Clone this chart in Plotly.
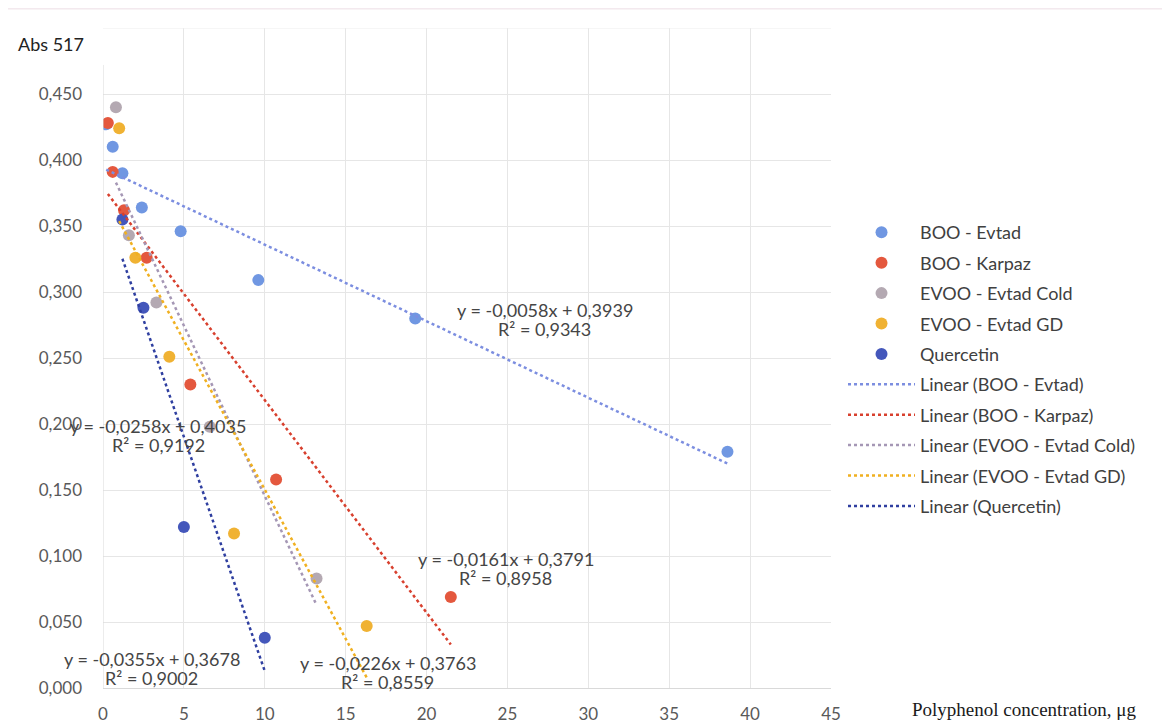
import plotly.graph_objects as go

# ---------------- data ----------------
series_names = ["BOO - Evtad", "BOO - Karpaz", "EVOO - Evtad Cold", "EVOO - Evtad GD", "Quercetin"]

evtad_x = [0.2, 0.6, 1.2, 2.4, 4.8, 9.6, 19.3, 38.6]
evtad_y = [0.427, 0.410, 0.390, 0.364, 0.346, 0.309, 0.280, 0.179]

karpaz_x = [0.3, 0.6, 1.3, 2.7, 5.4, 10.7, 21.5]
karpaz_y = [0.428, 0.391, 0.362, 0.326, 0.230, 0.158, 0.069]

cold_x = [0.8, 1.6, 3.3, 6.6, 13.2]
cold_y = [0.440, 0.343, 0.292, 0.198, 0.083]

gd_x = [1.0, 2.0, 4.1, 8.1, 16.3]
gd_y = [0.424, 0.326, 0.251, 0.117, 0.047]

querc_x = [1.2, 2.5, 5.0, 10.0]
querc_y = [0.355, 0.288, 0.122, 0.038]

slopes = [-0.0058, -0.0161, -0.0258, -0.0226, -0.0355]
intercepts = [0.3939, 0.3791, 0.4035, 0.3763, 0.3678]
r2_values = [0.9343, 0.8958, 0.9192, 0.8559, 0.9002]

x_ticks = [0, 5, 10, 15, 20, 25, 30, 35, 40, 45]
y_ticks = [0.0, 0.05, 0.10, 0.15, 0.20, 0.25, 0.30, 0.35, 0.40, 0.45]

# label positions (data coords) for equation annotations (centre of the two lines)
label_x = [27.3, 24.9, 3.4, 17.6, 3.0]
label_y = [0.279, 0.0905, 0.191, 0.0115, 0.0148]

# ---------------- styling ----------------
marker_colors = ["#7097e2", "#e4583e", "#b4a9b2", "#f0b233", "#4457bb"]
line_colors = ["#7c8ee0", "#d8402e", "#a597b5", "#f0b020", "#2f3fa0"]
FONT = "Lato"

xs = [evtad_x, karpaz_x, cold_x, gd_x, querc_x]
ys = [evtad_y, karpaz_y, cold_y, gd_y, querc_y]

fig = go.Figure()

for i, name in enumerate(series_names):
    fig.add_trace(go.Scatter(
        x=xs[i], y=ys[i], mode="markers", name=name,
        legendgroup="m%d" % i,
        marker=dict(size=12, color=marker_colors[i], line=dict(width=0)),
    ))

def fmt(v, n):
    s = ("%." + str(n) + "f") % abs(v)
    return s.replace(".", ",")

for i, name in enumerate(series_names):
    x0, x1 = min(xs[i]), max(xs[i])
    fig.add_trace(go.Scatter(
        x=[x0, x1],
        y=[slopes[i] * x0 + intercepts[i], slopes[i] * x1 + intercepts[i]],
        mode="lines", name="Linear (%s)" % name,
        legendgroup="l%d" % i,
        line=dict(color=line_colors[i], width=2.5, dash="dot"),
    ))
    fig.add_annotation(
        x=label_x[i], y=label_y[i], xref="x", yref="y", yshift=9.5,
        text="y = -%sx + %s" % (fmt(slopes[i], 4), fmt(intercepts[i], 4)),
        showarrow=False, font=dict(family=FONT, size=18, color="#454545"),
    )
    fig.add_annotation(
        x=label_x[i], y=label_y[i], xref="x", yref="y", yshift=-9.5,
        text="R² = %s" % fmt(r2_values[i], 4),
        showarrow=False, font=dict(family=FONT, size=18, color="#454545"),
    )

fig.add_annotation(x=-0.12, y=0.976, xref="paper", yref="paper", xanchor="left", yanchor="middle",
                   text="Abs 517", showarrow=False, font=dict(family=FONT, size=18, color="#222222"))
fig.add_annotation(x=1.265, y=-0.0333, xref="paper", yref="paper", xanchor="center", yanchor="middle",
                   text="Polyphenol concentration, μg", showarrow=False,
                   font=dict(family="Liberation Serif", size=19, color="#1a1a1a"))

# left axis line (starts below the title box) and top faint gridline
fig.add_shape(type="line", xref="x", yref="y", x0=0, x1=0, y0=0, y1=0.472,
              line=dict(color="#d9d9d9", width=1))
fig.add_shape(type="line", xref="x", yref="y", x0=0, x1=45, y0=0.5, y1=0.5,
              line=dict(color="#ededed", width=1))
# outer chart border
fig.add_shape(type="rect", xref="paper", yref="paper", x0=-0.1346, x1=1.463, y0=-0.2, y1=1.029,
              line=dict(color="#ecdde4", width=1), layer="below")

fig.update_layout(
    width=1162, height=717,
    margin=dict(l=95, r=339, t=20, b=37, autoexpand=False),
    paper_bgcolor="white", plot_bgcolor="white",
    separators=",.",
    font=dict(family=FONT, size=17, color="#595959"),
    showlegend=True,
    legend=dict(x=1.0165, y=0.718, xanchor="left", yanchor="top",
                font=dict(family=FONT, size=18, color="#404040"),
                tracegroupgap=4, itemwidth=67, bgcolor="rgba(0,0,0,0)"),
    xaxis=dict(range=[0, 45], tickvals=x_ticks, ticktext=[str(v) for v in x_ticks],
               showgrid=True, gridcolor="#e6e6e6", gridwidth=1, zeroline=False,
               showline=True, linecolor="#d9d9d9", ticks="", ticklabelstandoff=11,
               automargin=False,
               tickfont=dict(family=FONT, size=17, color="#595959")),
    yaxis=dict(range=[0, 0.5], tickvals=y_ticks, tickformat=".3f",
               showgrid=True, gridcolor="#e6e6e6", gridwidth=1, zeroline=False,
               showline=False, ticks="", ticklabelstandoff=20, automargin=False,
               tickfont=dict(family=FONT, size=17, color="#595959")),
)

fig.write_html("out.html")
